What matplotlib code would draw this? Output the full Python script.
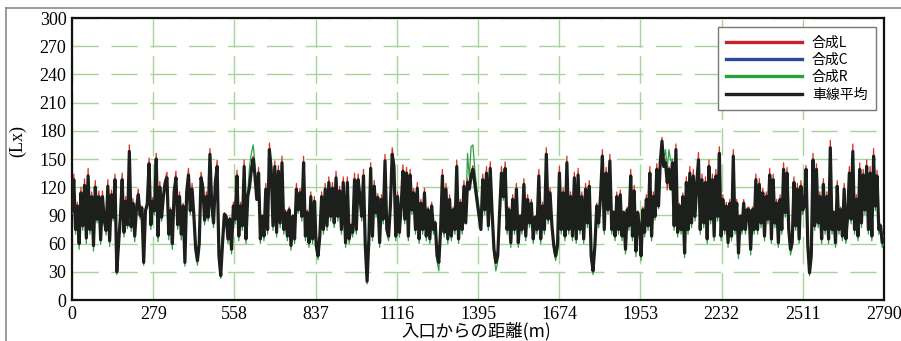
import numpy as np
import matplotlib.pyplot as plt
from matplotlib.lines import Line2D

# distance range covered by each block of readings (m)
seg_start = [0, 474, 940, 1405, 1866, 2326]
seg_end = [468, 932, 1396, 1861, 2320, 2790]

# lane average illuminance (Lx)
avg_a = [95, 128, 75, 100, 60, 114, 79, 122, 66, 132, 75, 110, 58, 120, 86, 110, 64, 110, 85, 74,
         121, 63, 112, 88, 128, 30, 60, 88, 128, 72, 105, 80, 158, 78, 103, 68, 98, 112, 90, 98,
         40, 95, 102, 145, 80, 105, 95, 150, 68, 120, 88, 110, 125, 130, 70, 95, 60, 115, 130, 80,
         110, 70, 100, 40, 115, 133, 95, 118, 90, 55, 42, 60, 130, 120, 85, 110, 88]
avg_b = [155, 100, 82, 125, 142, 47, 26, 61, 91, 89, 65, 86, 54, 100, 86, 132, 68, 100, 79, 142,
         65, 110, 121, 139, 150, 132, 107, 135, 65, 89, 68, 118, 75, 160, 139, 79, 142, 72, 137, 82,
         146, 75, 93, 68, 96, 58, 89, 65, 118, 96, 114, 89, 146, 68, 93, 61, 110, 65, 105, 58,
         47, 68, 110, 75, 118, 79, 125, 89, 119, 82, 130, 89, 116, 75, 125]
avg_c = [61, 125, 65, 79, 72, 128, 75, 128, 110, 89, 132, 58, 20, 65, 140, 68, 121, 93, 109, 61,
         107, 86, 148, 75, 68, 100, 155, 142, 68, 110, 72, 100, 137, 86, 135, 68, 133, 96, 114, 75,
         119, 65, 103, 75, 114, 68, 96, 65, 100, 75, 82, 47, 40, 75, 132, 72, 118, 65, 107, 68,
         96, 75, 142, 65, 103, 75, 121, 82, 125, 118, 132, 139, 125, 110, 96]
avg_d = [75, 128, 96, 135, 79, 140, 93, 54, 40, 47, 93, 135, 110, 140, 75, 96, 61, 107, 75, 118,
         61, 89, 75, 123, 68, 107, 82, 103, 65, 88, 75, 132, 65, 100, 75, 155, 86, 114, 79, 58,
         47, 58, 135, 75, 114, 68, 146, 75, 110, 68, 130, 65, 133, 75, 110, 65, 118, 82, 121, 47,
         31, 58, 100, 82, 110, 153, 75, 135, 96, 148, 75, 93]
avg_e = [68, 110, 75, 112, 68, 93, 54, 96, 79, 132, 68, 116, 52, 93, 79, 47, 96, 72, 107, 79,
         135, 68, 110, 89, 139, 100, 146, 169, 142, 146, 125, 139, 118, 146, 79, 160, 72, 100, 75, 110,
         50, 125, 75, 135, 82, 132, 89, 125, 149, 75, 128, 82, 125, 65, 142, 86, 128, 68, 132, 89,
         156, 68, 107, 75, 100, 61, 103, 68, 153, 75, 103, 50, 89, 75, 103, 75, 96]
avg_f = [96, 54, 96, 75, 128, 75, 123, 82, 114, 68, 110, 86, 133, 65, 128, 82, 103, 61, 107, 75,
         139, 93, 135, 75, 54, 61, 125, 79, 118, 65, 121, 96, 100, 139, 58, 29, 47, 149, 79, 139,
         82, 110, 65, 123, 75, 110, 65, 162, 75, 93, 61, 121, 75, 96, 68, 118, 65, 89, 135, 86,
         158, 75, 107, 68, 139, 82, 133, 96, 142, 75, 135, 68, 153, 100, 132, 75, 79, 61, 65]

# how far the L lane (red tips) sits from the average at each reading
dl_a = [2, 6, 1, 4, 1, 6, 1, 7, 1, 8, 1, 5, 1, 7, 1, 6, 1, 6, 2, 1, 7, 1, 5, 1, 6, 0, 1, 2, 7, 1,
        5, 1, 7, 1, 5, 1, 3, 6, 1, 2, 0, 2, 3, 6, 1, 4, 1, 6, 1, 6, 1, 3, 4, 6, 1, 3, 1, 4, 7, 1,
        5, 1, 3, 0, 4, 7, 1, 6, 2, 1, 0, 1, 6, 4, 1, 5, 2]
dl_b = [6, 2, 1, 4, 7, 1, 0, 1, 2, 2, 1, 2, 1, 4, 1, 6, 1, 4, 1, 7, 1, 3, 3, 3, 3, 2, 1, 6, 1, 2,
        1, 6, 1, 7, 3, 1, 6, 1, 6, 1, 7, 1, 3, 1, 3, 1, 2, 1, 6, 1, 5, 1, 7, 1, 3, 1, 5, 1, 5, 1,
        0, 1, 5, 1, 6, 1, 6, 1, 6, 1, 7, 1, 5, 1, 6]
dl_c = [1, 6, 1, 2, 1, 7, 1, 6, 3, 1, 7, 1, 0, 1, 6, 1, 6, 1, 4, 1, 5, 1, 7, 1, 1, 3, 7, 4, 1, 5,
        1, 3, 7, 1, 6, 1, 6, 1, 5, 1, 6, 1, 4, 1, 5, 1, 3, 1, 4, 1, 2, 1, 0, 2, 7, 1, 6, 1, 5, 1,
        3, 1, 7, 1, 4, 1, 6, 1, 4, 2, 3, 4, 3, 2, 2]
dl_d = [1, 6, 1, 7, 1, 7, 2, 1, 0, 1, 2, 7, 2, 7, 1, 3, 1, 5, 1, 6, 1, 2, 1, 6, 1, 5, 1, 4, 1, 2,
        1, 7, 1, 4, 1, 7, 1, 5, 1, 1, 0, 1, 7, 1, 5, 1, 7, 1, 5, 1, 6, 1, 7, 1, 5, 1, 6, 1, 6, 1,
        0, 1, 3, 1, 3, 7, 1, 6, 1, 7, 1, 2]
dl_e = [1, 5, 1, 5, 1, 2, 1, 3, 1, 7, 1, 6, 1, 2, 1, 0, 3, 1, 5, 1, 7, 1, 5, 1, 6, 1, 3, 4, 2, 4,
        -8, 3, 1, 4, 1, 6, 1, 3, 1, 4, 0, 6, 1, 7, 1, 7, 1, 4, 8, 1, 6, 1, 6, 1, 7, 1, 6, 1, 7, 1,
        7, 1, 5, 1, 4, 1, 4, 1, 7, 1, 4, 0, 2, 1, 4, 1, 2]
dl_f = [3, 1, 3, 1, 6, 1, 6, 1, 5, 1, 5, 1, 7, 1, 6, 1, 4, 1, 5, 1, 7, 1, 6, 1, 1, 1, 6, 1, 6, 1,
        6, 1, 2, 4, 1, 0, 1, 7, 1, 6, 1, 5, 1, 6, 1, 5, 1, 8, 1, 2, 1, 6, 1, 3, 1, 6, 1, 2, 7, 1,
        8, 1, 5, 1, 7, 1, 6, 1, 7, 1, 7, 1, 8, 1, 6, 1, 2, 1, 4]

# same for the R lane (green dips and the three bumps above the black line)
dr_a = [-3, -2, -5, -2, -6, -2, -5, -2, -6, -2, -5, -2, -6, -2, -4, -2, -5, -2, -3, -5,
        -2, -6, -2, -4, -2, -3, -4, -3, -2, -5, -2, -4, -2, -5, -2, -6, -2, -2, -4, -3,
        -3, -3, -2, -2, -5, -2, -4, -2, -6, -2, -4, -2, -2, -2, -6, -2, -6, -2, -2, -5,
        -2, -6, -2, -4, -2, -2, -4, -2, -3, -4, -5, -4, -2, -2, -5, -2, -4]
dr_b = [-2, -3, -5, -3, -2, -4, -3, -5, -2, -3, -5, -2, -5, -2, -5, -2, -5, -2, -5, -2,
        -5, 5, 21, 17, 15, 14, 11, -2, -5, -2, -5, -2, -5, -2, -3, -5, -2, -5, -2, -5,
        -2, -5, -2, -5, -2, -5, -2, -5, -2, -4, -2, -5, -2, -5, -2, -5, -2, -5, -2, -4,
        -4, -5, -2, -5, -2, -5, -2, -5, -2, -5, -2, -5, -2, -5, -2]
dr_c = [-5, -2, -5, -3, -5, -2, -5, -2, -3, -5, -2, -4, -3, -5, -2, -5, -2, -5, -2, -5,
        -2, -5, -2, -4, -5, -3, -2, -3, -5, -2, -5, -3, -2, -5, -2, -5, -2, -5, -2, -5,
        -2, -5, -2, -5, -2, -5, -2, -5, -2, -5, -3, -6, -9, -4, -2, -5, -2, -5, -2, -5,
        -2, -5, -2, -5, -2, -5, -2, 5, 31, 12, 31, 26, 15, 12, 8]
dr_d = [4, -2, -5, -2, -5, -2, -4, -6, -9, -6, -3, -2, -4, -2, -5, -2, -5, -2, -5, -2,
        -5, -2, -5, -2, -5, -2, -5, -2, -5, -2, -5, -2, -5, -2, -5, -2, -5, -2, -4, -5,
        -5, -5, -2, -5, -2, -5, -2, -5, -2, -5, -2, -5, -2, -5, -2, -5, -2, -5, -2, -5,
        -4, -5, -2, -5, -3, -2, -5, -2, -5, -2, -5, -3]
dr_e = [-5, -2, -5, -2, -5, -2, -5, -2, -5, -2, -5, -2, -6, -2, -3, -5, -2, -5, -2, -5,
        -2, -5, -2, -4, -2, -3, 4, -8, 8, 14, 14, 21, 30, 4, -5, -2, -5, -2, -5, -2,
        -5, -2, -5, -2, -5, -2, -5, -3, -2, -5, -2, -5, -2, -5, -2, -5, -2, -5, -2, -5,
        -2, -5, -2, -5, -2, -5, -2, -5, -2, -5, -2, -6, -2, -5, -2, -5, -3]
dr_f = [-2, -6, -2, -5, -2, -5, -2, -5, -2, -5, -2, -5, -2, -5, -2, -5, -2, -5, -2, -5,
        -2, -5, -2, -4, -6, -5, -2, -5, -2, -5, -2, -5, -3, -2, -4, -3, -4, -2, -5, -2,
        -5, -2, -5, -2, -5, -2, -5, -2, -5, -2, -5, -2, -5, -2, -5, -2, -5, -3, -2, -5,
        -2, -5, -2, -5, -2, -5, -2, -5, -2, -5, -2, -5, -2, -5, -2, -5, -2, -5, -4]

x_ticks = [0, 279, 558, 837, 1116, 1395, 1674, 1953, 2232, 2511, 2790]
y_ticks = list(range(0, 301, 30))
labels = ['合成L', '合成C', '合成R', '車線平均']

avg_parts = [avg_a, avg_b, avg_c, avg_d, avg_e, avg_f]
dl_parts = [dl_a, dl_b, dl_c, dl_d, dl_e, dl_f]
dr_parts = [dr_a, dr_b, dr_c, dr_d, dr_e, dr_f]

dist = np.concatenate([np.linspace(s, e, len(v))
                       for s, e, v in zip(seg_start, seg_end, avg_parts)])
avg = np.concatenate(avg_parts).astype(float)
lane_l = avg + np.concatenate(dl_parts)
lane_r = avg + np.concatenate(dr_parts)
lane_c = avg  # the C lane is hidden under the average line everywhere

cjk = ['Noto Sans CJK JP', 'DejaVu Sans']
serif = 'Liberation Serif'

fig = plt.figure(figsize=(9.01, 3.41), dpi=100)
ax = fig.add_axes([0.0799, 0.1202, 0.9012, 0.8270])

ax.plot(dist, lane_l, color='#e0301e', lw=0.9, zorder=3)
ax.plot(dist, lane_c, color='#2a48a0', lw=0.9, zorder=3)
ax.plot(dist, lane_r, color='#2aa040', lw=0.9, zorder=3)
ax.plot(dist, avg, color='#1c1f1c', lw=2.3, zorder=4)

ax.set_xlim(0, 2790)
ax.set_ylim(0, 300)
ax.set_xticks(x_ticks)
ax.set_yticks(y_ticks)
ax.tick_params(length=0, labelsize=13, pad=4)
for lab in ax.get_xticklabels() + ax.get_yticklabels():
    lab.set_family(serif)

ax.xaxis.grid(True, color='#a8d49a', lw=1.0, linestyle=(0, (20, 6)))
ax.yaxis.grid(True, color='#a8d49a', lw=1.0, linestyle=(0, (19, 9)))
ax.set_axisbelow(True)
for sp in ax.spines.values():
    sp.set_linewidth(1.6)
    sp.set_color('#111111')

handles = [Line2D([], [], color=c, lw=2.4)
           for c in ['#c8202a', '#2a4a9a', '#28a040', '#202020']]
leg = ax.legend(handles, labels, loc='upper right', bbox_to_anchor=(0.990, 0.968),
                borderaxespad=0, prop={'family': cjk, 'size': 10},
                handlelength=5.5, handletextpad=0.7, labelspacing=0.25,
                fancybox=False, framealpha=1, edgecolor='#777777', borderpad=0.6)
leg.get_frame().set_linewidth(1.0)
leg.set_zorder(10)

fig.text(18 / 901, 1 - 141 / 341, '(Lx)', rotation=90, ha='center', va='center',
         family=serif, size=13)
fig.text(476 / 901, 1 - 331 / 341, '入口からの距離(m)', ha='center', va='center',
         family=cjk, size=12.5)

# outer frame of the scanned page
fig.add_artist(Line2D([6 / 901, 1], [1 - 8 / 341, 1 - 8 / 341], color='#8a8a8a', lw=1.2))
fig.add_artist(Line2D([6 / 901, 6 / 901], [0, 1 - 8 / 341], color='#8a8a8a', lw=1.2))

fig.savefig('out.png', dpi=100)
